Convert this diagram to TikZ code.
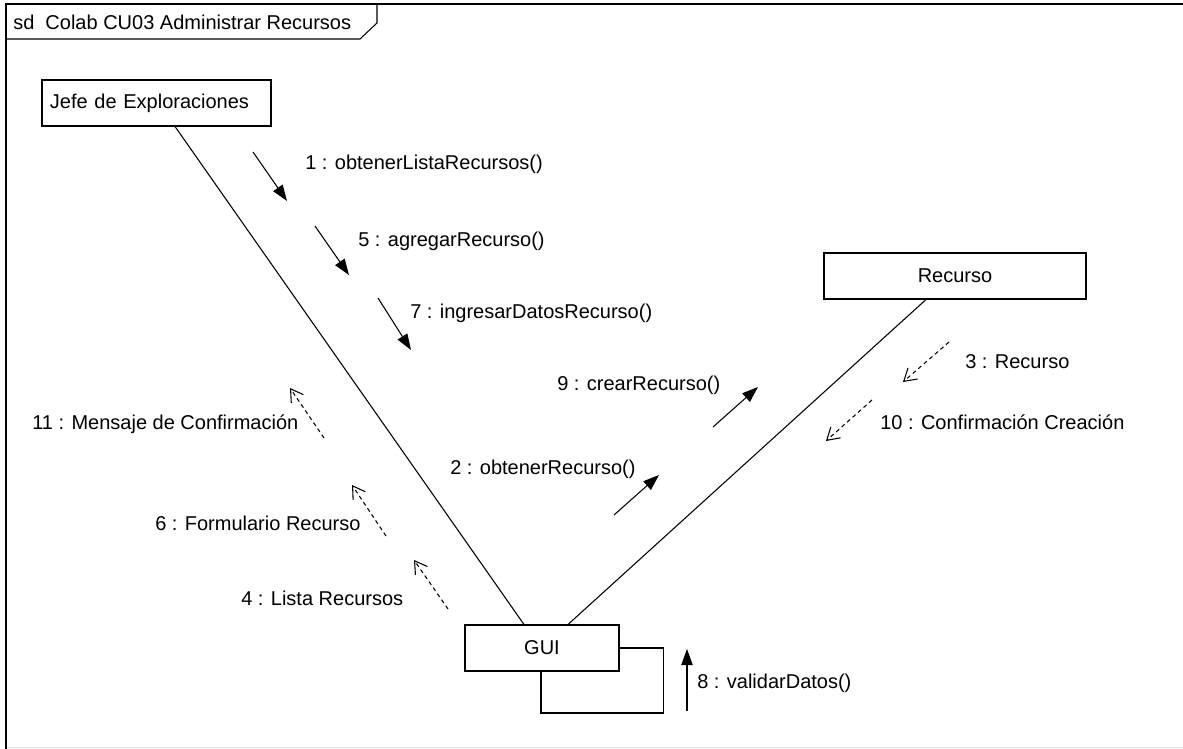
\documentclass[tikz,border=0pt]{standalone}
\usepackage{fontspec}
\setmainfont{Liberation Sans}
\usetikzlibrary{arrows.meta}
\definecolor{framegray}{RGB}{225,225,225}

\begin{document}
\begin{tikzpicture}[x=0.75pt,y=-0.75pt,
  every node/.style={font=\fontsize{15}{18}\selectfont},
  objbox/.style={draw, line width=0.8pt, minimum height=34.5pt, inner sep=0pt},
  link/.style={line width=0.8pt},
  call/.style={line width=0.8pt, -{Triangle[length=12pt,width=8.5pt]}},
  reply/.style={line width=0.8pt, dash pattern=on 3pt off 2.5pt, -{Straight Barb[length=9pt,width=11pt]}},
  lbl/.style={anchor=west, inner sep=0pt}
]

% Page
\useasboundingbox (0,0) rectangle (1183,749);
\fill[white] (0,0) rectangle (1183,749);

% Frame
\draw[framegray] (6,747) -- (1183,747);
\draw[line width=0.8pt] (6,749) -- (6,4) -- (1183,4);
\draw[line width=0.8pt] (6,39) -- (360,39) -- (377,23) -- (377,4);
\node[lbl] (title) at (13,22) {sd\ \ Colab CU03 Administrar Recursos};

% Objects
\node[objbox, minimum width=171.75pt, inner xsep=6pt, text width=159.75pt, align=left] (jefe) at (156.5,103) {Jefe de Exploraciones};
\node[objbox, minimum width=196.5pt] (recurso) at (955,276) {Recurso};
\node[objbox, minimum width=115.5pt] (gui) at (542,648) {GUI};

% Links
\draw[link] ([xshift=13.9pt]jefe.south) -- ([xshift=-13.5pt]gui.north);
\draw[link] ([xshift=-21.75pt]recurso.south) -- ([xshift=19.5pt]gui.north);
\draw[link] (gui.east) -- ++(44,0) -- ++(0,65) -| ([xshift=-0.75pt]gui.south);

% Calls
\foreach \n/\xa/\ya/\xb/\yb in {
1/253/152/287/201,
5/315/226/349/275,
7/378/298/411/350,
9/713/427/758/387,
2/614/515/659/475,
8/687/711/687/649
}{
\coordinate (m\n a) at (\xa,\ya);
\coordinate (m\n b) at (\xb,\yb);
\draw[call] (m\n a) -- (m\n b);
}

% Replies
\foreach \n/\xa/\ya/\xb/\yb in {
3/949/342/903/382,
10/872/400/826/441,
11/324/438/290/388,
6/386/536/352/485,
4/448/609/414/560
}{
\coordinate (m\n a) at (\xa,\ya);
\coordinate (m\n b) at (\xb,\yb);
\draw[reply] (m\n a) -- (m\n b);
}

% Message labels
\foreach \n/\x/\y/\txt in {
1/305/164/{1 : obtenerListaRecursos()},
5/358/241/{5 : agregarRecurso()},
7/410/313/{7 : ingresarDatosRecurso()},
9/557/385/{9 : crearRecurso()},
3/965/362/{3 : Recurso},
10/880/422/{10 : Confirmación Creación},
11/32/424/{11 : Mensaje de Confirmación},
2/450/469/{2 : obtenerRecurso()},
6/155/523/{6 : Formulario Recurso},
4/241/598/{4 : Lista Recursos},
8/697/683/{8 : validarDatos()}
}{
\node[lbl] (l\n) at (\x,\y) {\txt};
}

\end{tikzpicture}
\end{document}
